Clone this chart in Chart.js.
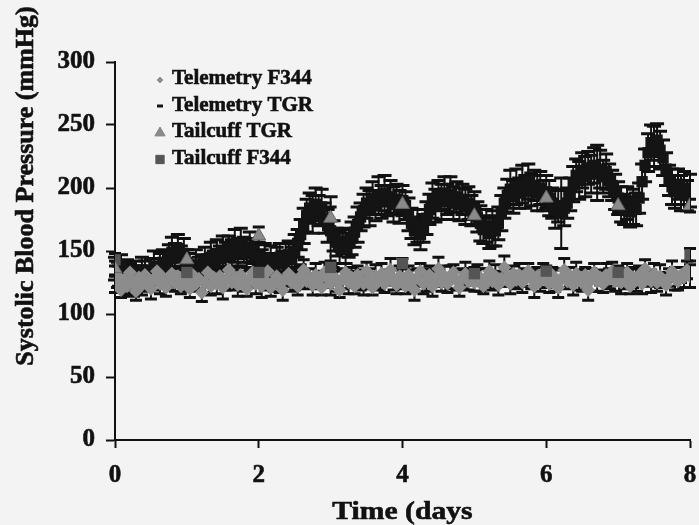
<!DOCTYPE html>
<html>
<head>
<meta charset="utf-8">
<script src="https://cdn.jsdelivr.net/npm/chart.js@4.4.1/dist/chart.umd.min.js"></script>
<style>
  html, body { margin: 0; padding: 0; background: #f3f3f3; }
  #wrap { position: relative; width: 699px; height: 525px; }
</style>
</head>
<body>
<div id="wrap"><canvas id="bpChart"></canvas></div>
<script>
// telemetry is sampled once an hour, x is in days
const HOURS_PER_SAMPLE = 1;

const telemetryTGR = [
  136, 131, 139, 128, 134, 130, 126, 133, 129, 135, 131, 127, 134, 138, 132, 137, 141, 136, 144, 149, 146, 152, 145, 148,
  141, 137, 133, 139, 135, 138, 142, 137, 145, 141, 148, 144, 150, 146, 152, 147, 154, 149, 156, 151, 148, 153, 150, 146,
  146, 141, 144, 139, 143, 137, 141, 145, 140, 144, 147, 143, 150, 156, 163, 170, 178, 184, 179, 187, 182, 185, 176, 170,
  166, 162, 157, 153, 158, 152, 156, 160, 165, 171, 177, 182, 188, 184, 192, 186, 194, 189, 196, 190, 193, 187, 191, 185,
  190, 186, 179, 172, 166, 170, 163, 168, 176, 183, 190, 186, 194, 189, 196, 191, 195, 188, 193, 187, 191, 185, 188, 182,
  184, 177, 172, 167, 170, 164, 168, 166, 172, 180, 188, 194, 199, 193, 201, 196, 203, 197, 205, 199, 202, 196, 200, 194,
  197, 192, 188, 183, 186, 180, 184, 188, 195, 203, 210, 206, 214, 209, 216, 211, 218, 212, 215, 209, 213, 206, 202, 197,
  192, 187, 183, 188, 181, 185, 183, 192, 205, 218, 228, 236, 233, 238, 230, 224, 215, 206, 201, 197, 203, 196, 200, 194, 198
];
const telemetryTGRErr = [
  9, 10, 8, 11, 9, 10, 12, 9, 8, 10, 11, 9, 10, 12, 9, 11, 10, 13, 11, 12, 10, 11, 9, 12,
  10, 11, 9, 12, 10, 9, 11, 10, 12, 9, 11, 10, 12, 11, 10, 12, 13, 11, 12, 10, 11, 12, 10, 11,
  11, 10, 12, 9, 11, 10, 12, 11, 10, 12, 11, 10, 13, 11, 12, 14, 13, 12, 15, 13, 12, 14, 12, 13,
  27, 12, 11, 13, 10, 12, 11, 13, 12, 14, 11, 13, 12, 14, 13, 12, 15, 13, 14, 12, 13, 14, 12, 13,
  12, 11, 13, 12, 11, 13, 12, 11, 13, 12, 14, 13, 12, 14, 13, 12, 14, 13, 12, 13, 12, 14, 13, 12,
  13, 12, 14, 11, 13, 12, 14, 12, 13, 14, 12, 13, 15, 13, 14, 12, 15, 13, 14, 13, 12, 14, 13, 12,
  13, 14, 12, 15, 13, 28, 14, 12, 13, 14, 13, 15, 14, 16, 13, 15, 14, 22, 15, 13, 14, 13, 12, 14,
  13, 14, 12, 13, 12, 14, 13, 12, 14, 13, 15, 14, 16, 13, 15, 14, 13, 12, 14, 13, 12, 14, 13, 12, 13
];
const telemetryF344 = [
  124, 130, 119, 127, 122, 133, 125, 118, 129, 123, 131, 126, 120, 128, 134, 124, 129, 121, 127, 132, 125, 130, 122, 128,
  126, 120, 131, 124, 128, 117, 125, 133, 122, 129, 124, 130, 121, 127, 135, 125, 129, 123, 131, 126, 120, 128, 133, 124,
  129, 122, 127, 134, 121, 126, 130, 124, 119, 128, 132, 125, 127, 122, 130, 135, 126, 129, 123, 131, 127, 121, 133, 128,
  124, 130, 126, 119, 128, 133, 125, 129, 122, 131, 127, 124, 134, 128, 121, 130, 126, 132, 124, 129, 135, 127, 123, 130,
  128, 122, 131, 126, 119, 129, 134, 124, 127, 131, 122, 128, 136, 125, 130, 124, 129, 133, 127, 121, 128, 132, 126, 130,
  125, 131, 127, 122, 129, 134, 126, 130, 123, 128, 137, 129, 124, 132, 127, 131, 125, 129, 134, 128, 122, 130, 126, 133,
  129, 124, 131, 127, 121, 128, 135, 126, 130, 123, 132, 127, 125, 131, 119, 127, 133, 126, 129, 124, 131, 128, 134, 126,
  130, 125, 128, 133, 122, 129, 127, 131, 124, 136, 128, 126, 132, 125, 130, 127, 123, 129, 134, 128, 126, 131, 129, 135, 130
];
const telemetryF344Err = [
  7, 8, 6, 9, 7, 8, 6, 7, 9, 8, 7, 6, 8, 9, 7, 8, 6, 7, 8, 9, 7, 8, 6, 7,
  8, 7, 9, 6, 8, 7, 8, 9, 7, 6, 8, 7, 9, 8, 7, 6, 8, 9, 7, 8, 6, 7, 9, 8,
  7, 9, 8, 6, 7, 8, 9, 7, 8, 6, 9, 7, 8, 7, 9, 8, 6, 7, 8, 9, 7, 6, 8, 7,
  9, 7, 8, 6, 8, 7, 9, 8, 6, 7, 8, 9, 7, 8, 6, 9, 7, 8, 7, 6, 9, 8, 7, 8,
  8, 6, 7, 9, 8, 7, 6, 8, 9, 7, 8, 6, 9, 7, 8, 7, 9, 6, 8, 7, 8, 9, 7, 6,
  7, 8, 9, 6, 7, 8, 7, 9, 8, 6, 9, 7, 8, 6, 7, 9, 8, 7, 6, 8, 9, 7, 8, 7,
  8, 7, 6, 9, 8, 7, 9, 6, 7, 8, 9, 8, 7, 6, 8, 9, 7, 8, 6, 7, 9, 8, 7, 8,
  7, 9, 8, 7, 6, 8, 9, 7, 8, 7, 6, 9, 8, 7, 9, 6, 8, 7, 8, 9, 7, 6, 8, 7, 9
];

const tailcuffDays = [0, 1, 2, 3, 4, 5, 6, 7, 8];
const tailcuffTGR = [136, 143, 162, 176, 187, 178, 192, 186, 186];
const tailcuffTGRErr = [6, 5, 7, 9, 6, 7, 6, 5, 5];
const tailcuffF344 = [143, 133, 133, 137, 140, 132, 134, 133, 147];
const tailcuffF344Err = [5, 4, 5, 5, 4, 5, 4, 5, 5];

const xTicks = [0, 2, 4, 6, 8];
const yTicks = [0, 50, 100, 150, 200, 250, 300];

const FONT = '"Liberation Serif", "Times New Roman", serif';

function hourly(values) {
  return values.map((v, i) => ({ x: i * HOURS_PER_SAMPLE / 24, y: v }));
}
function daily(days, values) {
  return days.map((d, i) => ({ x: d, y: values[i] }));
}

// vertical error bars with caps, drawn under the markers
const errorBars = {
  id: 'errorBars',
  beforeDatasetsDraw(chart) {
    const ctx = chart.ctx;
    const ys = chart.scales.y;
    ctx.save();
    ctx.strokeStyle = '#111';
    // draw in the same order as the markers (back to front)
    const idx = chart.data.datasets.map((d, i) => i)
      .sort((a, b) => chart.data.datasets[b].order - chart.data.datasets[a].order);
    idx.forEach(i => {
      const ds = chart.data.datasets[i];
      if (!ds.errors) return;
      const meta = chart.getDatasetMeta(i);
      const cap = ds.capHalf || 5;
      meta.data.forEach((pt, j) => {
        const v = ds.data[j].y, e = ds.errors[j];
        const top = ys.getPixelForValue(v + e);
        const bot = ys.getPixelForValue(v - e);
        ctx.lineWidth = 2;
        ctx.beginPath();
        ctx.moveTo(pt.x, top);
        ctx.lineTo(pt.x, bot);
        ctx.stroke();
        ctx.lineWidth = 3;
        ctx.beginPath();
        ctx.moveTo(pt.x - cap, top);
        ctx.lineTo(pt.x + cap, top);
        ctx.moveTo(pt.x - cap, bot);
        ctx.lineTo(pt.x + cap, bot);
        ctx.stroke();
      });
    });
    ctx.restore();
  }
};

// legend inside the plot, plus axis titles
const overlay = {
  id: 'overlay',
  afterDraw(chart) {
    const ctx = chart.ctx;
    ctx.save();
    ctx.textBaseline = 'middle';
    ctx.font = 'bold 21px ' + FONT;
    ctx.lineWidth = 0.6;
    chart.data.datasets.forEach((ds, r) => {
      const y = 79 + r * 26.5;
      const mx = 160;
      ctx.fillStyle = ds.backgroundColor;
      ctx.strokeStyle = ds.borderColor;
      if (ds.legendMark === 'dash') {
        ctx.fillRect(mx - 3, y - 1, 6, 3);
      } else {
        Chart.helpers.drawPoint(ctx, {
          pointStyle: ds.pointStyle,
          radius: ds.legendRadius,
          borderWidth: 1
        }, mx, y + 1);
        ctx.fill();
      }
      ctx.fillStyle = '#111';
      ctx.strokeStyle = '#111';
      ctx.textAlign = 'left';
      ctx.fillText(ds.label, 172, y);
      ctx.strokeText(ds.label, 172, y);
    });

    const ca = chart.chartArea;
    ctx.font = 'bold 26px ' + FONT;
    ctx.textAlign = 'center';
    ctx.save();
    ctx.translate((ca.left + ca.right) / 2, 512);
    ctx.scale(1.14, 1);
    ctx.fillText('Time (days', 0, 0);
    ctx.strokeText('Time (days', 0, 0);
    ctx.restore();

    ctx.translate(26, 186);
    ctx.rotate(-Math.PI / 2);
    ctx.fillText('Systolic Blood Pressure (mmHg)', 0, 0);
    ctx.strokeText('Systolic Blood Pressure (mmHg)', 0, 0);
    ctx.restore();
  }
};

const data = {
  datasets: [
    {
      label: 'Telemetry F344',
      data: hourly(telemetryF344),
      errors: telemetryF344Err,
      capHalf: 6,
      pointStyle: 'rectRot',
      pointRadius: 7,
      legendRadius: 3,
      backgroundColor: '#8c8c8c',
      borderColor: '#8c8c8c',
      borderWidth: 0,
      order: 3
    },
    {
      label: 'Telemetry TGR',
      data: hourly(telemetryTGR),
      errors: telemetryTGRErr,
      capHalf: 7,
      pointStyle: 'rect',
      pointRadius: 8,
      legendMark: 'dash',
      backgroundColor: '#141414',
      borderColor: '#141414',
      borderWidth: 0,
      order: 4
    },
    {
      label: 'Tailcuff TGR',
      data: daily(tailcuffDays, tailcuffTGR),
      errors: tailcuffTGRErr,
      capHalf: 6,
      pointStyle: 'triangle',
      pointRadius: 8,
      legendRadius: 6,
      backgroundColor: '#8a8a8a',
      borderColor: '#666',
      borderWidth: 1,
      order: 1
    },
    {
      label: 'Tailcuff F344',
      data: daily(tailcuffDays, tailcuffF344),
      errors: tailcuffF344Err,
      capHalf: 6,
      pointStyle: 'rect',
      pointRadius: 8,
      legendRadius: 6,
      backgroundColor: '#555',
      borderColor: '#555',
      borderWidth: 0,
      order: 2
    }
  ]
};

const tickFont = { family: FONT, size: 25, weight: 'bold' };

new Chart(document.getElementById('bpChart'), {
  type: 'scatter',
  data: data,
  plugins: [errorBars, overlay],
  options: {
    responsive: true,
    maintainAspectRatio: false,
    animation: false,
    layout: { padding: { top: 62, right: 7, left: 0, bottom: 0 } },
    plugins: { legend: { display: false }, tooltip: { enabled: false } },
    scales: {
      x: {
        type: 'linear',
        min: 0,
        max: 8,
        afterBuildTicks: s => { s.ticks = xTicks.map(v => ({ value: v })); },
        afterFit: s => { s.height = 85; s.paddingLeft = 0; s.paddingRight = 0; },
        ticks: { font: tickFont, color: '#111', padding: 13, textStrokeColor: '#111', textStrokeWidth: 0.6 },
        grid: { drawOnChartArea: false, tickLength: 8, tickColor: '#111', tickWidth: 2 },
        border: { color: '#111', width: 2 }
      },
      y: {
        min: 0,
        max: 300,
        afterBuildTicks: s => { s.ticks = yTicks.map(v => ({ value: v })); },
        afterFit: s => { s.width = 115; s.paddingTop = 0; s.paddingBottom = 0; },
        ticks: { font: tickFont, color: '#111', padding: 11, textStrokeColor: '#111', textStrokeWidth: 0.6 },
        grid: { drawOnChartArea: false, tickLength: 9, tickColor: '#111', tickWidth: 2 },
        border: { color: '#111', width: 2 }
      }
    }
  }
});
</script>
</body>
</html>
